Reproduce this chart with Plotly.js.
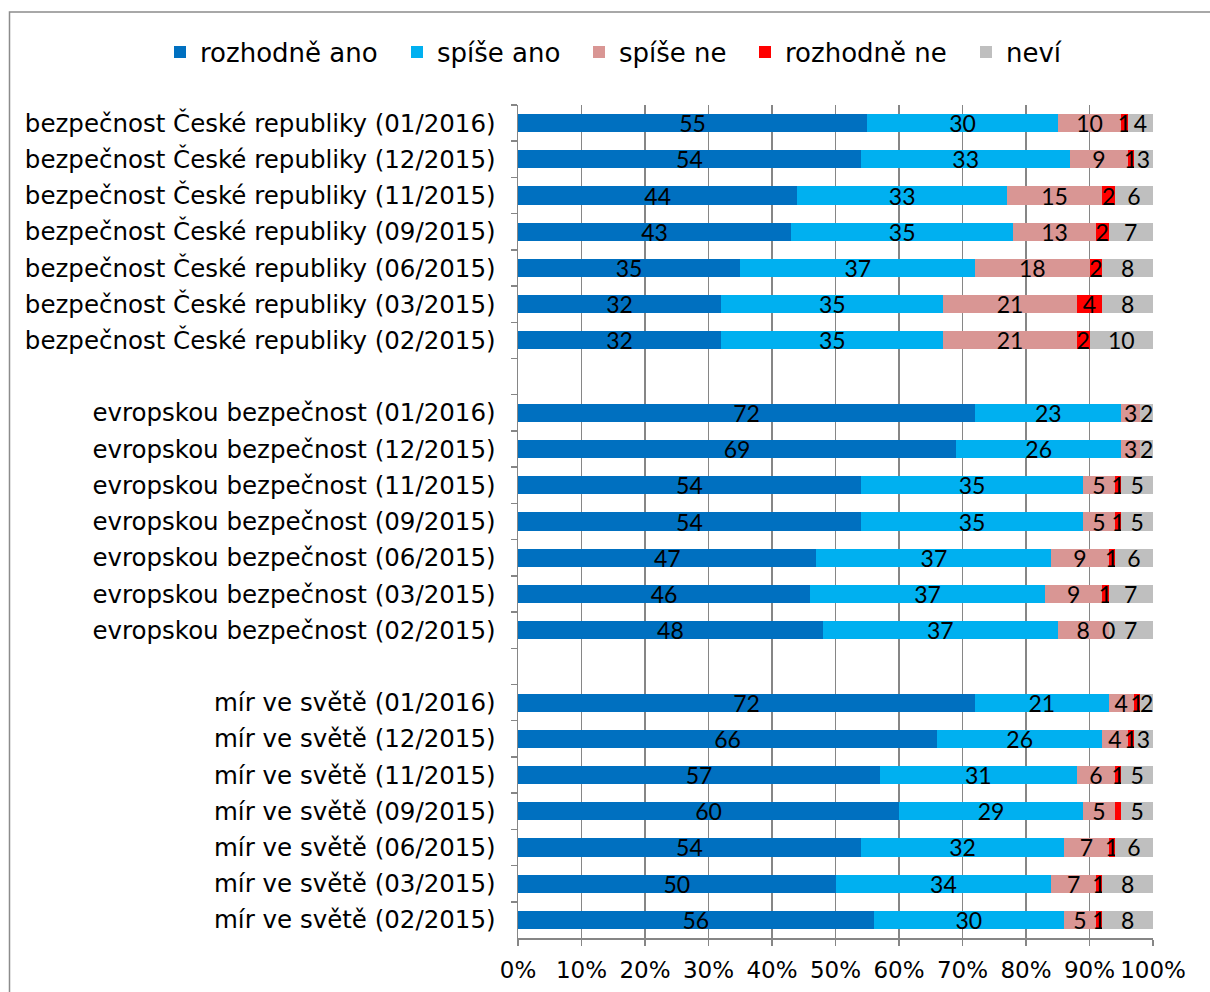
<!DOCTYPE html>
<html>
<head>
<meta charset="utf-8">
<script src="https://cdn.plot.ly/plotly-3.0.1.min.js"></script>
<style>
  html, body { margin: 0; padding: 0; background: #fff; }
  #chart { width: 1210px; height: 992px; }
</style>
</head>
<body>
<div id="chart"></div>
<script>
// ---- data (top to bottom) ----
const categories = [
  "bezpečnost České republiky (01/2016)",
  "bezpečnost České republiky (12/2015)",
  "bezpečnost České republiky (11/2015)",
  "bezpečnost České republiky (09/2015)",
  "bezpečnost České republiky (06/2015)",
  "bezpečnost České republiky (03/2015)",
  "bezpečnost České republiky (02/2015)",
  "evropskou bezpečnost (01/2016)",
  "evropskou bezpečnost (12/2015)",
  "evropskou bezpečnost (11/2015)",
  "evropskou bezpečnost (09/2015)",
  "evropskou bezpečnost (06/2015)",
  "evropskou bezpečnost (03/2015)",
  "evropskou bezpečnost (02/2015)",
  "mír ve světě (01/2016)",
  "mír ve světě (12/2015)",
  "mír ve světě (11/2015)",
  "mír ve světě (09/2015)",
  "mír ve světě (06/2015)",
  "mír ve světě (03/2015)",
  "mír ve světě (02/2015)"
];
const groupSizes = [7, 7, 7];

const seriesNames = ["rozhodně ano", "spíše ano", "spíše ne", "rozhodně ne", "neví"];
const rozhodneAno = [55, 54, 44, 43, 35, 32, 32, 72, 69, 54, 54, 47, 46, 48, 72, 66, 57, 60, 54, 50, 56];
const spiseAno    = [30, 33, 33, 35, 37, 35, 35, 23, 26, 35, 35, 37, 37, 37, 21, 26, 31, 29, 32, 34, 30];
const spiseNe     = [10,  9, 15, 13, 18, 21, 21,  3,  3,  5,  5,  9,  9,  8,  4,  4,  6,  5,  7,  7,  5];
const rozhodneNe  = [ 1,  1,  2,  2,  2,  4,  2, null, null, 1, 1, 1, 1, 0, 1, 1, 1, 1, 1, 1, 1];
const nevi        = [ 4,  3,  6,  7,  8,  8, 10,  2,  2,  5,  5,  6,  7,  7,  2,  3,  5,  5,  6,  8,  8];
// labels shown on the "rozhodně ne" segments (one was not labelled in the original)
const rozhodneNeLabels = ["1","1","2","2","2","4","2","","","1","1","1","1","0","1","1","1","","1","1","1"];
const xTickLabels = ["0%","10%","20%","30%","40%","50%","60%","70%","80%","90%","100%"];
const colors = ["#0070C0", "#00B0F0", "#D99694", "#FF0000", "#BFBFBF"];

const axisFont = "'DejaVu Sans', Verdana, sans-serif";
const labelFont = "Lato, 'Open Sans', sans-serif";

// ---- build category list with empty gap rows between groups ----
function withGaps(arr, gapValue) {
  const out = [];
  let idx = 0;
  groupSizes.forEach((n, g) => {
    for (let i = 0; i < n; i++) out.push(arr[idx++]);
    if (g < groupSizes.length - 1) out.push(typeof gapValue === "function" ? gapValue(g) : gapValue);
  });
  return out;
}
const yCats = withGaps(categories, g => " ".repeat(g + 1));
const allValues = [rozhodneAno, spiseAno, spiseNe, rozhodneNe, nevi];
const allLabels = allValues.map((vals, s) =>
  s === 3 ? rozhodneNeLabels : vals.map(v => v === null ? "" : String(v)));

const legendIds = ["legend", "legend2", "legend3", "legend4", "legend5"];
const legendTextStart = [200, 437, 619, 785, 1006]; // px where each legend label starts

const traces = allValues.map((vals, s) => ({
  type: "bar",
  orientation: "h",
  name: seriesNames[s],
  legend: legendIds[s],
  y: yCats,
  x: withGaps(vals, null),
  text: withGaps(allLabels[s], ""),
  texttemplate: "%{text}",
  textposition: "inside",
  insidetextanchor: "middle",
  constraintext: "none",
  textangle: 0,
  cliponaxis: false,
  insidetextfont: { family: labelFont, size: 23, color: "#000" },
  textfont: { family: labelFont, size: 23, color: "#000" },
  marker: { color: colors[s], line: { width: 0 } },
  hoverinfo: "skip"
}));

// labels of zero-width segments (Plotly draws no text for them)
const annotations = [];
allValues.forEach((vals, s) => {
  vals.forEach((v, i) => {
    if (v === 0 && allLabels[s][i] !== "") {
      let start = 0;
      for (let k = 0; k < s; k++) start += allValues[k][i] || 0;
      annotations.push({
        x: start, y: categories[i], xref: "x", yref: "y",
        text: allLabels[s][i], showarrow: false,
        xanchor: "center", yanchor: "middle",
        font: { family: labelFont, size: 23, color: "#000" }
      });
    }
  });
});

const plotL = 518, plotR = 1153, plotT = 105, plotB = 938.5;
const W = 1210, H = 992;
const pw = plotR - plotL, ph = plotB - plotT;

const layout = {
  width: W, height: H,
  margin: { l: plotL, r: W - plotR, t: plotT, b: H - plotB, pad: 0 },
  paper_bgcolor: "#ffffff",
  plot_bgcolor: "#ffffff",
  barmode: "stack",
  bargap: 0.5,
  showlegend: true,
  font: { family: axisFont, size: 24, color: "#000" },
  xaxis: {
    range: [0, 100],
    tickmode: "array",
    tickvals: xTickLabels.map((_, i) => i * 10),
    ticktext: xTickLabels,
    showgrid: true,
    gridcolor: "#868686",
    gridwidth: 1.5,
    zeroline: false,
    showline: true,
    linecolor: "#868686",
    linewidth: 1.5,
    ticks: "outside",
    ticklen: 6,
    tickcolor: "#868686",
    tickwidth: 1.5,
    ticklabelstandoff: 5,
    tickfont: { family: axisFont, size: 23, color: "#000" },
    fixedrange: true
  },
  yaxis: {
    type: "category",
    categoryorder: "array",
    categoryarray: yCats,
    autorange: "reversed",
    showgrid: false,
    zeroline: false,
    showline: true,
    linecolor: "#868686",
    linewidth: 1.5,
    ticks: "outside",
    tickson: "boundaries",
    ticklen: 6,
    tickcolor: "#868686",
    tickwidth: 1.5,
    ticklabelstandoff: 16,
    tickfont: { family: axisFont, size: 24.5, color: "#000" },
    fixedrange: true
  },
  annotations: annotations,
  shapes: [{
    type: "rect", xref: "paper", yref: "paper",
    x0: (9.5 - plotL) / pw, x1: (W + 20 - plotL) / pw,
    y0: (plotB - (H + 20)) / ph, y1: (plotB - 12) / ph,
    line: { color: "#8C8C8C", width: 1.5 },
    fillcolor: "rgba(0,0,0,0)",
    layer: "below"
  }]
};

legendIds.forEach((id, s) => {
  layout[id] = {
    orientation: "h",
    x: (legendTextStart[s] - 40) / W, xref: "container", xanchor: "left",
    y: 1 - 52 / H, yref: "container", yanchor: "middle",
    font: { family: axisFont, size: 26, color: "#000" },
    itemwidth: 30,
    bgcolor: "rgba(0,0,0,0)",
    borderwidth: 0
  };
});

Plotly.newPlot("chart", traces, layout, { displayModeBar: false, staticPlot: true });
</script>
</body>
</html>
